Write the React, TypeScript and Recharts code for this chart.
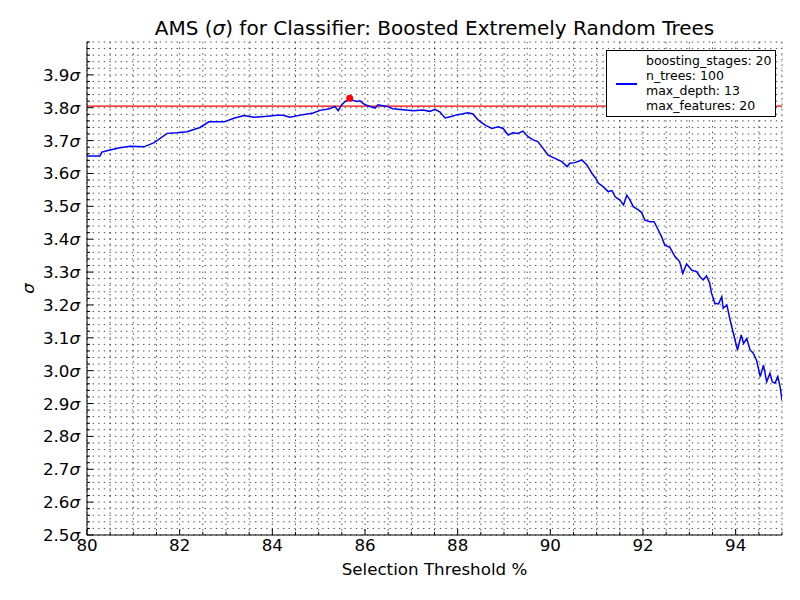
import React from 'react';
import { LineChart, Line, XAxis, YAxis, CartesianGrid, ReferenceLine, ReferenceDot, Legend } from 'recharts';

const thresholds = [
  80.0, 80.28, 80.32, 80.43, 80.71, 80.93, 81.23, 81.45, 81.73, 81.94,
  82.16, 82.44, 82.63, 82.96, 83.17, 83.39, 83.6, 83.89, 84.1, 84.23,
  84.38, 84.66, 84.88, 85.03, 85.24, 85.35, 85.42, 85.5, 85.57, 85.68,
  85.83, 85.89, 86.0, 86.11, 86.22, 86.28, 86.48, 86.6, 86.82, 87.04,
  87.25, 87.4, 87.51, 87.62, 87.73, 87.88, 87.99, 88.09, 88.22, 88.33,
  88.44, 88.59, 88.74, 88.87, 88.98, 89.09, 89.19, 89.3, 89.41, 89.52,
  89.63, 89.73, 89.84, 89.95, 90.1, 90.25, 90.36, 90.42, 90.53, 90.68,
  90.79, 90.9, 90.98, 91.04, 91.14, 91.25, 91.33, 91.4, 91.5, 91.58,
  91.65, 91.72, 91.79, 91.9, 91.97, 92.04, 92.15, 92.24, 92.33, 92.4,
  92.47, 92.58, 92.69, 92.79, 92.86, 92.94, 93.05, 93.16, 93.23, 93.3,
  93.37, 93.44, 93.48, 93.55, 93.63, 93.7, 93.73, 93.81, 93.88, 93.95,
  94.04, 94.12, 94.17, 94.24, 94.31, 94.38, 94.45, 94.53, 94.6, 94.67,
  94.74, 94.79, 94.85, 94.91, 94.96, 95.0,
];

const amsValues = [
  3.653, 3.653, 3.665, 3.669, 3.678, 3.683, 3.681, 3.694, 3.722, 3.724,
  3.727, 3.74, 3.757, 3.757, 3.768, 3.776, 3.771, 3.774, 3.777, 3.777,
  3.771, 3.779, 3.784, 3.792, 3.797, 3.804, 3.791, 3.809, 3.819, 3.824,
  3.819, 3.821, 3.809, 3.804, 3.799, 3.809, 3.804, 3.797, 3.794, 3.791,
  3.793, 3.789, 3.795, 3.787, 3.769, 3.774, 3.779, 3.781, 3.785, 3.781,
  3.763, 3.747, 3.737, 3.742, 3.737, 3.717, 3.724, 3.722, 3.729, 3.712,
  3.702, 3.697, 3.677, 3.656, 3.646, 3.636, 3.621, 3.631, 3.633, 3.641,
  3.626, 3.6, 3.585, 3.57, 3.56, 3.545, 3.548, 3.529, 3.519, 3.504,
  3.534, 3.519, 3.499, 3.489, 3.481, 3.458, 3.453, 3.453, 3.428, 3.408,
  3.382, 3.375, 3.347, 3.332, 3.296, 3.325, 3.306, 3.301, 3.286, 3.276,
  3.288, 3.266, 3.235, 3.205, 3.203, 3.225, 3.19, 3.2, 3.154, 3.114,
  3.063, 3.109, 3.083, 3.098, 3.063, 3.053, 3.032, 2.982, 3.017, 2.966,
  2.992, 2.966, 2.962, 2.982, 2.951, 2.91,
];

const xMajorTicks = [80, 82, 84, 86, 88, 90, 92, 94];
const yMajorTicks = [2.5, 2.6, 2.7, 2.8, 2.9, 3.0, 3.1, 3.2, 3.3, 3.4, 3.5, 3.6, 3.7, 3.8, 3.9];
const xMinorTicks = Array.from({ length: 31 }, (_, i) => 80 + i * 0.5);
const yMinorTicks = Array.from({ length: 76 }, (_, i) => Math.round((2.5 + i * 0.02) * 100) / 100);

const bestThreshold = 85.67;
const bestAms = 3.829;
const referenceAms = 3.805;

const legendLines = ['boosting_stages: 20', 'n_trees: 100', 'max_depth: 13', 'max_features: 20'];

const data = thresholds.map((t, i) => ({ t, ams: amsValues[i] }));

const FONT = '"DejaVu Sans", sans-serif';
const isMajor = (list: number[], v: number) => list.some((t) => Math.abs(t - v) < 1e-6);

const BottomTick = (props: any) => {
  const { x, y, payload } = props;
  const major = isMajor(xMajorTicks, payload.value);
  return (
    <g>
      <line x1={x} x2={x} y1={y} y2={y - (major ? 6 : 3)} stroke="#000" strokeWidth={1} />
      {major && (
        <text x={x} y={y + 16} textAnchor="middle" fontSize={16.7} fontFamily={FONT} fill="#000">
          {payload.value}
        </text>
      )}
    </g>
  );
};

const TopTick = (props: any) => {
  const { x, y, payload } = props;
  const major = isMajor(xMajorTicks, payload.value);
  return <line x1={x} x2={x} y1={y} y2={y + (major ? 6 : 3)} stroke="#000" strokeWidth={1} />;
};

const LeftTick = (props: any) => {
  const { x, y, payload } = props;
  const major = isMajor(yMajorTicks, payload.value);
  return (
    <g>
      <line x1={x} x2={x + (major ? 6 : 3)} y1={y} y2={y} stroke="#000" strokeWidth={1} />
      {major && (
        <text x={x - 7} y={y + 6} textAnchor="end" fontSize={16.7} fontFamily={FONT} fill="#000">
          {payload.value.toFixed(1)}
          <tspan fontStyle="italic">σ</tspan>
        </text>
      )}
    </g>
  );
};

const RightTick = (props: any) => {
  const { x, y, payload } = props;
  const major = isMajor(yMajorTicks, payload.value);
  return <line x1={x} x2={x - (major ? 6 : 3)} y1={y} y2={y} stroke="#000" strokeWidth={1} />;
};

const LegendBox = () => (
  <div
    style={{
      width: 168,
      height: 65,
      border: '1px solid #000',
      background: '#fff',
      fontFamily: FONT,
      fontSize: 12.5,
      lineHeight: '15px',
      position: 'relative',
      boxSizing: 'content-box',
    }}
  >
    <div style={{ position: 'absolute', left: 9, top: 32, width: 21, height: 1.5, background: '#0000ff' }} />
    <div style={{ position: 'absolute', left: 39, top: 1.5, whiteSpace: 'nowrap', color: '#000' }}>
      {legendLines.map((l) => (
        <div key={l}>{l}</div>
      ))}
    </div>
  </div>
);

export default function App() {
  return (
    <div style={{ position: 'absolute', left: 0, top: 0, width: 800, height: 600, background: '#fff', fontFamily: FONT }}>
      <div
        style={{
          position: 'absolute',
          left: 87,
          width: 695,
          top: 16,
          textAlign: 'center',
          fontSize: 20,
          lineHeight: '24px',
          color: '#000',
          whiteSpace: 'nowrap',
          zIndex: 2,
        }}
      >
        AMS (<span style={{ fontStyle: 'italic' }}>σ</span>) for Classifier: Boosted Extremely Random Trees
      </div>
      <LineChart width={800} height={600} data={data} margin={{ top: 42, right: 18, left: 0, bottom: 0 }}>
        <CartesianGrid stroke="#000" strokeDasharray="1.4 4.2" strokeWidth={0.7} />
        <XAxis
          dataKey="t"
          type="number"
          domain={[80, 95]}
          ticks={xMinorTicks}
          interval={0}
          tick={<BottomTick />}
          tickLine={false}
          tickSize={0}
          tickMargin={0}
          height={65}
          axisLine={{ stroke: '#000', strokeWidth: 1 }}
          allowDataOverflow
          label={{ value: 'Selection Threshold %', position: 'center', dy: 2, style: { fontSize: 16.7, fill: '#000', fontFamily: FONT } }}
        />
        <XAxis
          xAxisId="top"
          orientation="top"
          type="number"
          domain={[80, 95]}
          ticks={xMinorTicks}
          interval={0}
          tick={<TopTick />}
          tickLine={false}
          tickSize={0}
          tickMargin={0}
          height={0}
          axisLine={{ stroke: '#000', strokeWidth: 1 }}
          allowDataOverflow
        />
        <YAxis
          type="number"
          domain={[2.5, 4.0]}
          ticks={yMinorTicks}
          interval={0}
          tick={<LeftTick />}
          tickLine={false}
          tickSize={0}
          tickMargin={0}
          width={87}
          axisLine={{ stroke: '#000', strokeWidth: 1 }}
          allowDataOverflow
          label={{ value: 'σ', angle: -90, position: 'center', dx: -15, style: { fontSize: 16.7, fill: '#000', fontStyle: 'italic', fontFamily: FONT } }}
        />
        <YAxis
          yAxisId="right"
          orientation="right"
          type="number"
          domain={[2.5, 4.0]}
          ticks={yMinorTicks}
          interval={0}
          tick={<RightTick />}
          tickLine={false}
          tickSize={0}
          tickMargin={0}
          width={0}
          axisLine={{ stroke: '#000', strokeWidth: 1 }}
          allowDataOverflow
        />
        <ReferenceLine y={referenceAms} stroke="#ff0000" strokeWidth={1.3} ifOverflow="hidden" />
        <Line
          type="linear"
          dataKey="ams"
          stroke="#0000ff"
          strokeWidth={1.5}
          dot={false}
          activeDot={false}
          isAnimationActive={false}
        />
        <ReferenceDot x={bestThreshold} y={bestAms} r={3.5} fill="#ff0000" stroke="none" />
        <Legend
          content={() => <LegendBox />}
          layout="horizontal"
          verticalAlign="middle"
          align="center"
          wrapperStyle={{ position: 'absolute', left: 606, top: 50, width: 170, height: 67, margin: 0 }}
        />
      </LineChart>
    </div>
  );
}
